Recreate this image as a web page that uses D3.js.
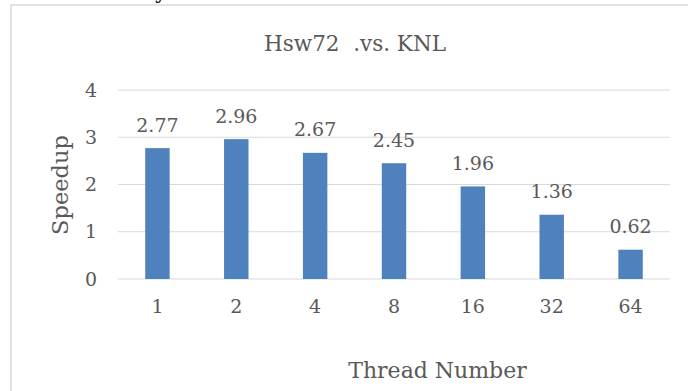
<!DOCTYPE html>
<html>
<head>
<meta charset="utf-8">
<script src="https://cdn.jsdelivr.net/npm/d3@7"></script>
<style>
  body { margin: 0; background: #fff; }
  svg { display: block; }
  text { font-family: "DejaVu Serif", serif; fill: #595959; }
</style>
</head>
<body>
<svg></svg>
<script>
// данные графика
const threads = ["1", "2", "4", "8", "16", "32", "64"];
const speedup = [2.77, 2.96, 2.67, 2.45, 1.96, 1.36, 0.62];
const yTicks = [0, 1, 2, 3, 4];

const width = 688;
const height = 391;
const plotLeft = 118, plotRight = 670;
const plotTop = 90, plotBottom = 279;

let svg = d3.select("svg")
  .attr("width", width)
  .attr("height", height);

// рамка диаграммы (уходит за край картинки)
svg.append("path")
  .attr("d", `M11,${height + 2} L11,5 L${width + 2},5`)
  .attr("fill", "none")
  .attr("stroke", "#d9d9d9")
  .attr("stroke-width", 1.5);

// хвост буквы из текста над диаграммой
svg.append("text")
  .attr("x", 155)
  .attr("y", -2)
  .style("font-size", "22px")
  .style("fill", "#222")
  .text("y");

// шкалы
let scX = d3.scaleBand()
  .domain(threads)
  .range([plotLeft, plotRight])
  .paddingInner(0.69)
  .paddingOuter(0.345);

let scY = d3.scaleLinear()
  .domain([0, 4])
  .range([plotBottom, plotTop]);

// сетка
svg.append("g")
  .selectAll("line")
  .data(yTicks)
  .enter()
  .append("line")
  .attr("x1", plotLeft)
  .attr("x2", plotRight)
  .attr("y1", d => scY(d))
  .attr("y2", d => scY(d))
  .attr("stroke", "#d9d9d9")
  .attr("stroke-width", 1.2);

// ось Y — только подписи
let axisY = d3.axisLeft(scY)
  .tickValues(yTicks)
  .tickFormat(d3.format("d"))
  .tickSize(0)
  .tickPadding(21);
let gY = svg.append("g")
  .attr("transform", `translate(${plotLeft}, 0)`)
  .call(axisY);
gY.select(".domain").remove();
gY.selectAll("text")
  .style("font-size", "19px")
  .style("fill", "#595959")
  .style("font-family", "DejaVu Serif, serif");

// ось X — только подписи
let axisX = d3.axisBottom(scX).tickSize(0).tickPadding(21);
let gX = svg.append("g")
  .attr("transform", `translate(0, ${plotBottom})`)
  .call(axisX);
gX.select(".domain").remove();
gX.selectAll("text")
  .style("font-size", "19px")
  .style("fill", "#595959")
  .style("font-family", "DejaVu Serif, serif");

// столбцы
svg.selectAll(".bar")
  .data(speedup)
  .enter()
  .append("rect")
  .attr("class", "bar")
  .attr("x", (d, i) => scX(threads[i]))
  .attr("y", d => scY(d))
  .attr("width", scX.bandwidth())
  .attr("height", d => plotBottom - scY(d))
  .style("fill", "#4f81bd");

// подписи значений
svg.selectAll(".label")
  .data(speedup)
  .enter()
  .append("text")
  .attr("class", "label")
  .attr("x", (d, i) => scX(threads[i]) + scX.bandwidth() / 2)
  .attr("y", d => scY(d) - 16.5)
  .attr("text-anchor", "middle")
  .style("font-size", "19px")
  .text(d => d.toFixed(2));

// заголовок
svg.append("text")
  .attr("x", 355)
  .attr("y", 51)
  .attr("text-anchor", "middle")
  .style("font-size", "21.5px")
  .style("white-space", "pre")
  .attr("xml:space", "preserve")
  .text("Hsw72  .vs. KNL");

// подписи осей
svg.append("text")
  .attr("transform", "translate(68, 185) rotate(-90)")
  .attr("text-anchor", "middle")
  .style("font-size", "22.5px")
  .text("Speedup");

svg.append("text")
  .attr("x", 437.5)
  .attr("y", 378)
  .attr("text-anchor", "middle")
  .style("font-size", "22px")
  .text("Thread Number");
</script>
</body>
</html>
